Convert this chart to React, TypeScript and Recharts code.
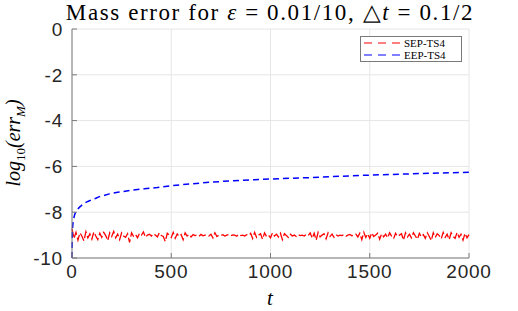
import { LineChart, Line, XAxis, YAxis, CartesianGrid } from 'recharts';

const xTicks = [0, 500, 1000, 1500, 2000];
const yTicks = [-10, -8, -6, -4, -2, 0];

// SEP-TS4: sampled every 10 time units, 0..2000
const sepT = Array.from({ length: 201 }, (_, i) => i * 10);
const sepVals = [
  -8.72, -9.15, -8.88, -9.22, -8.9, -9.05, -9.25, -8.85, -9.12, -8.95,
  -9.18, -8.86, -9.04, -9.2, -8.92, -9.1, -8.88, -9.02, -9.24, -8.9,
  -9.06, -8.84, -9.12, -8.96, -9.2, -8.9, -9.04, -9.1, -8.94, -9.32,
  -8.9, -9.05, -8.97, -9.12, -8.92, -9.0, -8.86, -9.1, -9.0, -8.96,
  -9.04, -8.94, -9.0, -9.08, -8.9, -9.02, -9.06, -9.28, -8.92, -9.0,
  -9.1, -8.88, -9.14, -8.95, -9.06, -8.98, -9.2, -8.9, -9.04, -8.96,
  -9.08, -8.98, -9.02, -9.0, -9.05, -8.97, -9.03, -9.0, -8.98, -9.04,
  -8.96, -9.12, -8.9, -9.06, -9.0, -9.02, -8.98, -9.04, -9.0, -8.97,
  -9.03, -8.99, -9.0, -9.05, -8.96, -9.02, -9.0, -9.04, -8.98, -9.02,
  -8.92, -9.15, -8.88, -9.1, -9.0, -8.94, -9.18, -8.9, -9.06, -9.0,
  -9.12, -8.9, -9.04, -8.96, -9.08, -8.92, -9.2, -8.94, -9.02, -9.1,
  -8.96, -9.04, -9.0, -9.06, -8.98, -9.02, -9.0, -9.04, -8.97, -9.02,
  -8.9, -9.14, -8.92, -9.22, -8.88, -9.08, -9.0, -8.94, -9.16, -8.9,
  -9.06, -8.96, -9.1, -8.98, -9.04, -9.0, -9.02, -8.98, -9.05, -9.0,
  -8.97, -9.03, -9.0, -8.96, -9.08, -8.92, -9.2, -8.88, -9.1, -8.94,
  -9.14, -8.9, -9.06, -9.0, -8.92, -9.18, -8.94, -9.08, -8.96, -9.12,
  -8.9, -9.04, -9.16, -8.92, -9.06, -9.0, -8.94, -9.22, -8.9, -9.08,
  -8.96, -9.12, -8.9, -9.04, -9.18, -8.92, -9.08, -8.98, -9.14, -8.9,
  -9.06, -9.24, -8.9, -9.1, -8.94, -9.02, -9.16, -8.88, -9.1, -8.96,
  -9.2, -8.9, -9.06, -9.14, -8.88, -9.1, -8.96, -9.22, -8.92, -9.12,
  -8.98,
];

// EEP-TS4
const eepT = [0, 1, 2, 4, 7, 12, 17, 25, 37, 50, 62, 80, 96, 120, 138, 160, 188, 238, 306, 364, 430, 502, 600, 700, 800, 900, 1000, 1100, 1200, 1350, 1500, 1650, 1800, 2000];
const eepVals = [-10, -9.3, -8.85, -8.55, -8.34, -8.15, -8.02, -7.91, -7.79, -7.69, -7.61, -7.53, -7.47, -7.39, -7.32, -7.27, -7.2, -7.12, -7.03, -6.98, -6.92, -6.84, -6.76, -6.69, -6.63, -6.59, -6.55, -6.52, -6.49, -6.43, -6.38, -6.34, -6.3, -6.26];

const sepData = sepT.map((t, i) => ({ t, v: sepVals[i] }));
const eepData = eepT.map((t, i) => ({ t, v: eepVals[i] }));

const AXIS = '#7a7a7a';
const TICK = { fontSize: 19, fill: '#262626', fontFamily: 'Liberation Sans, Arial, sans-serif', letterSpacing: 0.8 };
const SERIF = 'Liberation Serif, Times New Roman, serif';

const series = [
  { label: 'SEP-TS4', color: '#ff0000' },
  { label: 'EEP-TS4', color: '#0000ff' },
];

function LegendBox() {
  return (
    <div style={{
      position: 'absolute', left: 360, top: 36,
      width: 97, height: 24, border: `1px solid ${AXIS}`, background: '#fff',
      display: 'flex', flexDirection: 'column', justifyContent: 'center', padding: '0 0 0 3px',
    }}>
      {series.map(s => (
        <div key={s.label} style={{ display: 'flex', alignItems: 'center', height: 12 }}>
          <svg width={36} height={4} style={{ marginRight: 4 }}>
            <line x1={0} y1={2} x2={36} y2={2} stroke={s.color} strokeWidth={1} strokeDasharray="8 6" />
          </svg>
          <span style={{ fontFamily: SERIF, fontSize: 11, color: '#000', lineHeight: '12px' }}>{s.label}</span>
        </div>
      ))}
    </div>
  );
}

export default function App() {
  return (
    <div style={{ position: 'absolute', left: 0, top: 0, width: 518, height: 311, background: '#fff' }}>
      <div style={{
        position: 'absolute', left: 0, width: 518, top: 0, textAlign: 'center', paddingLeft: 22,
        fontFamily: SERIF, fontSize: 23, lineHeight: '26px', letterSpacing: 1.6, color: '#000',
        boxSizing: 'border-box', whiteSpace: 'nowrap',
      }}>
        Mass error for <i>ε</i> = 0.01/10, △<i>t</i> = 0.1/2
      </div>
      <div style={{
        position: 'absolute', left: 15, top: 143, transform: 'translate(-50%, -50%) rotate(-90deg)',
        fontFamily: SERIF, fontSize: 20, fontStyle: 'italic', whiteSpace: 'nowrap', color: '#000',
      }}>
        log<sub style={{ fontSize: 13, fontStyle: 'normal' }}>10</sub>(err<sub style={{ fontSize: 13 }}>M</sub>)
      </div>
      <div style={{
        position: 'absolute', left: 270, top: 298, transform: 'translate(-50%, -50%)',
        fontFamily: SERIF, fontSize: 21, fontStyle: 'italic', color: '#000',
      }}>
        t
      </div>
      <LineChart width={518} height={311} margin={{ top: 29, right: 49, bottom: 0, left: 0 }}>
        <CartesianGrid stroke="#e6e6e6" horizontalValues={yTicks} verticalValues={xTicks} />
        <XAxis
          dataKey="t" type="number" domain={[0, 2000]} ticks={xTicks} height={53}
          stroke={AXIS} tick={TICK} tickSize={-5} tickMargin={12} allowDuplicatedCategory={false}
        />
        <XAxis xAxisId="top" orientation="top" type="number" domain={[0, 2000]} height={0} tick={false} stroke={AXIS} />
        <YAxis
          type="number" domain={[-10, 0]} ticks={yTicks} width={72}
          stroke={AXIS} tick={TICK} tickSize={-5} tickMargin={14}
        />
        <YAxis yAxisId="right" orientation="right" type="number" domain={[-10, 0]} width={0} tick={false} stroke={AXIS} />
        <Line
          data={sepData} dataKey="v" name="SEP-TS4" stroke="#ff0000" strokeWidth={1.3}
          strokeDasharray="8 3" dot={false} isAnimationActive={false}
        />
        <Line
          data={eepData} dataKey="v" name="EEP-TS4" stroke="#0000ff" strokeWidth={1.5}
          strokeDasharray="6 4" dot={false} isAnimationActive={false}
        />
      </LineChart>
      <LegendBox />
    </div>
  );
}
